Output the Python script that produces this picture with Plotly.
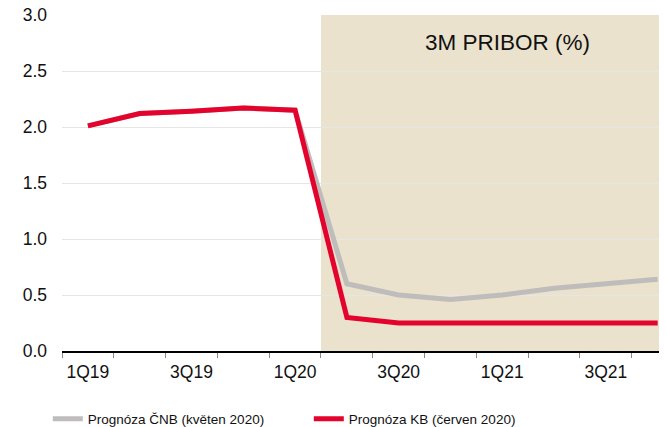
import plotly.graph_objects as go

quarters = ["1Q19", "2Q19", "3Q19", "4Q19", "1Q20", "2Q20",
            "3Q20", "4Q20", "1Q21", "2Q21", "3Q21", "4Q21"]
tick_text = ["1Q19", "", "3Q19", "", "1Q20", "", "3Q20", "", "1Q21", "", "3Q21", ""]
cnb_may2020 = [2.01, 2.12, 2.14, 2.17, 2.15, 0.60, 0.50, 0.46, 0.50, 0.56, 0.60, 0.64]
kb_june2020 = [2.01, 2.12, 2.14, 2.17, 2.15, 0.30, 0.25, 0.25, 0.25, 0.25, 0.25, 0.25]
y_ticks = [0, 0.5, 1.0, 1.5, 2.0, 2.5, 3.0]

FONT = "Liberation Sans, Arial, sans-serif"

fig = go.Figure()
fig.add_trace(go.Scatter(x=quarters, y=cnb_may2020, mode="lines",
                         name="Prognóza ČNB (květen 2020)",
                         line=dict(color="#BFBCBC", width=5)))
fig.add_trace(go.Scatter(x=quarters, y=kb_june2020, mode="lines",
                         name="Prognóza KB (červen 2020)",
                         line=dict(color="#E4032D", width=5)))

fig.add_shape(type="rect", xref="x", yref="y domain",
              x0=4.5, x1=12, y0=0, y1=1,
              fillcolor="#EAE2CC", line=dict(width=0), layer="below")

fig.add_annotation(x=(507 - 62) / 605, y=(351 - 42) / 336, xref="paper", yref="paper",
                   text="3M PRIBOR (%)", showarrow=False,
                   xanchor="center", yanchor="middle",
                   font=dict(size=22.5, color="#111", family=FONT))

fig.update_layout(
    width=659, height=419,
    margin=dict(l=54, r=0, t=7, b=76, autoexpand=False),
    plot_bgcolor="white", paper_bgcolor="white",
    font=dict(family=FONT, size=15, color="#111"),
    showlegend=True,
    legend=dict(orientation="h", x=-0.04 + 10 / 605, y=-0.202, xanchor="left", yanchor="middle",
                font=dict(size=13.5, family=FONT, color="#111"),
                entrywidth=216, entrywidthmode="pixels"),
    xaxis=dict(type="category", categoryorder="array", categoryarray=quarters,
               range=[-0.5, 11.18], tickmode="array", tickvals=quarters,
               ticktext=tick_text, tickson="boundaries", automargin=False,
               tickangle=0, ticklabelstandoff=4,
               ticks="outside", ticklen=5, tickcolor="#888",
               showline=True, linecolor="#000", linewidth=1.5,
               showgrid=False, tickfont=dict(size=17.5, family=FONT, color="#111")),
    yaxis=dict(range=[0, 3.0], tickvals=y_ticks, tickformat=".1f", automargin=False,
               showgrid=True, gridcolor="#E6E6E6", gridwidth=1,
               zeroline=False, showline=False, ticks="",
               ticklabelstandoff=14, ticklabeloverflow="allow",
               tickfont=dict(size=17.5, family=FONT, color="#111")),
)

fig.write_html("out.html")
